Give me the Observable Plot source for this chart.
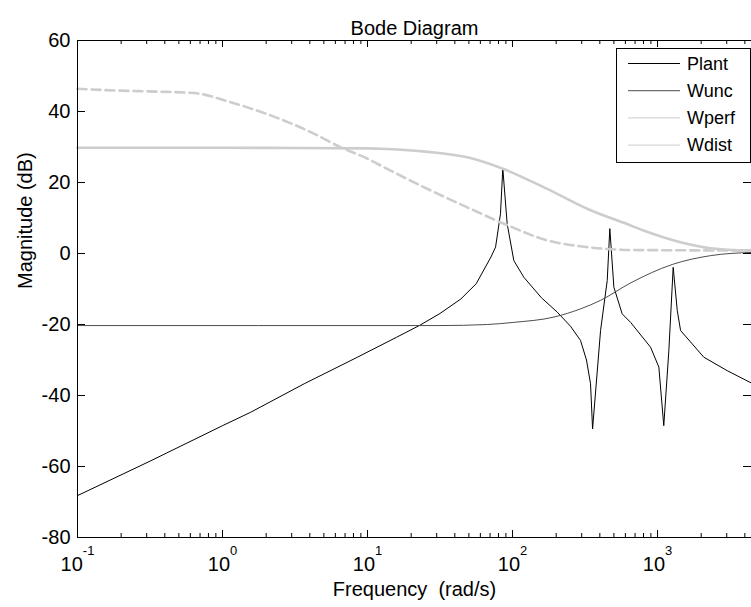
<!DOCTYPE html>
<html>
<head>
<meta charset="utf-8">
<script src="https://cdn.jsdelivr.net/npm/d3@7"></script>
<script src="https://cdn.jsdelivr.net/npm/@observablehq/plot@0.6"></script>
<style>
  body { margin: 0; background: #fff; }
</style>
</head>
<body>
<div id="chart"></div>
<script>
// ---------- data ----------
const titleText = "Bode Diagram";
const xLabelText = "Frequency  (rad/s)";
const yLabelText = "Magnitude (dB)";
const seriesNames = ["Plant", "Wunc", "Wperf", "Wdist"];

const xMax = 4446;
const xMajorTicks = [0.1, 1, 10, 100, 1000];
const yTicks = [-80, -60, -40, -20, 0, 20, 40, 60];

const plantFreq = [0.1, 0.316, 1, 1.567, 3.656, 8.53, 15.85, 22.75, 31.6, 44.06, 56.2, 70.96, 76.4, 82.6, 85.7, 91.8, 102.1, 119.7, 158.5, 203.2, 251.2, 294.4, 323.6, 345.1, 356.5, 404.6, 449.8, 468.8, 500.0, 570.2, 651.6, 895.4, 1021, 1104, 1197, 1282, 1368, 1442, 2084, 3020, 4446];
const plantMag  = [-68.2, -58.5, -48.5, -44.7, -36.7, -29.2, -23.6, -20.3, -16.9, -12.8, -8.5, -1.0, 1.8, 11.2, 24.0, 8.4, -2.0, -6.7, -12.5, -16.5, -20.5, -24.5, -30.0, -36.7, -49.4, -21.7, -7.6, 7.0, -9.5, -17.0, -19.4, -26.4, -32.0, -48.5, -27.3, -3.9, -16.1, -21.7, -29.2, -33.0, -36.5];

const wuncFreq = [0.1, 31.6, 67.0, 102.1, 193.2, 294.4, 404.6, 651.6, 1262, 2323, 4446];
const wuncMag  = [-20.3, -20.3, -20.0, -19.4, -17.9, -15.6, -13.2, -8.3, -3.1, -0.6, 0.3];

const wperfFreq = [0.1, 1, 3.16, 10, 12.3, 25.1, 48.8, 86.7, 173.4, 327.3, 651.6, 800, 1442, 2323, 4446];
const wperfMag  = [29.8, 29.8, 29.7, 29.6, 29.5, 28.7, 27.1, 23.8, 18.2, 12.6, 7.9, 6.5, 3.2, 1.5, 0.8];

const wdistFreq = [0.1, 0.189, 0.355, 0.638, 1.14, 2.15, 4.06, 6.55, 10, 12.3, 24.4, 48.8, 87.1, 173.4, 327.3, 651.6, 1585, 4446];
const wdistMag  = [46.4, 45.9, 45.6, 45.2, 42.6, 38.9, 34.2, 29.9, 26.7, 24.8, 18.7, 13.0, 8.4, 3.7, 1.8, 1.0, 0.9, 0.8];

// ---------- build ----------
const toRows = (name, f, m) => f.map((x, i) => ({name, f: x, db: m[i]}));
const plantRows = toRows(seriesNames[0], plantFreq, plantMag);
const wuncRows  = toRows(seriesNames[1], wuncFreq, wuncMag);
const wperfRows = toRows(seriesNames[2], wperfFreq, wperfMag);
const wdistRows = toRows(seriesNames[3], wdistFreq, wdistMag);

const xMinorTicks = [];
for (const d of xMajorTicks) for (let k = 2; k <= 9; k++) { const v = d * k; if (v <= xMax) xMinorTicks.push(v); }

const W = 751, H = 607, mT = 40, mB = 70, mL = 77, mR = 0;
const plotH = H - mT - mB;
const plotW = W - mL - mR;
const font = '"Liberation Sans", Arial, Helvetica, sans-serif';

const chart = Plot.plot({
  width: W, height: H,
  marginTop: mT, marginBottom: mB, marginLeft: mL, marginRight: mR,
  style: {fontFamily: font, background: "#fff", color: "#000", overflow: "visible"},
  x: {type: "log", domain: [0.1, xMax]},
  y: {domain: [-80, 60]},
  marks: [
    Plot.line(plantRows, {x: "f", y: "db", stroke: "#000", strokeWidth: 1}),
    Plot.line(wuncRows,  {x: "f", y: "db", stroke: "#4d4d4d", strokeWidth: 1, curve: "monotone-x"}),
    Plot.line(wperfRows, {x: "f", y: "db", stroke: "#cdcdcd", strokeWidth: 2.6, curve: "monotone-x"}),
    Plot.line(wdistRows, {x: "f", y: "db", stroke: "#cdcdcd", strokeWidth: 2.6, strokeDasharray: "9,5", curve: "monotone-x"}),
    Plot.frame({stroke: "#000", strokeWidth: 1}),
    Plot.tickX(xMajorTicks, {x: d => d, insetTop: plotH - 7, stroke: "#000"}),
    Plot.tickX(xMajorTicks, {x: d => d, insetBottom: plotH - 7, stroke: "#000"}),
    Plot.tickX(xMinorTicks, {x: d => d, insetTop: plotH - 4, stroke: "#000"}),
    Plot.tickX(xMinorTicks, {x: d => d, insetBottom: plotH - 4, stroke: "#000"}),
    Plot.tickY(yTicks, {y: d => d, insetRight: plotW - 8, stroke: "#000"}),
    Plot.tickY(yTicks, {y: d => d, insetLeft: plotW - 8, stroke: "#000"}),
    Plot.axisX(xMajorTicks, {anchor: "bottom", tickSize: 0, tickPadding: 19, fontSize: 20, label: null,
      tickFormat: d => "10^" + Math.round(Math.log10(d))}),
    Plot.axisY(yTicks, {anchor: "left", tickSize: 0, tickPadding: 7, fontSize: 20, label: null,
      tickFormat: d => String(d)}),
    Plot.text([yLabelText], {text: d => d, frameAnchor: "left", rotate: -90, dx: -52, fontSize: 20}),
    Plot.text([xLabelText], {text: d => d, frameAnchor: "bottom", dy: 58, fontSize: 20}),
    Plot.text([titleText], {text: d => d, frameAnchor: "top", dy: -20, fontSize: 20})
  ]
});

document.getElementById("chart").appendChild(chart);

// superscript exponents on x tick labels
d3.select(chart).selectAll('g[aria-label="x-axis tick label"] text').each(function() {
  const parts = this.textContent.split("^");
  if (parts.length !== 2) return;
  const t = d3.select(this);
  t.text(parts[0]);
  t.append("tspan").attr("dy", "-16").attr("font-size", 13).text(parts[1]);
});

// legend
const legendItems = [
  {name: seriesNames[0], color: "#000", width: 1},
  {name: seriesNames[1], color: "#4d4d4d", width: 1},
  {name: seriesNames[2], color: "#cdcdcd", width: 1},
  {name: seriesNames[3], color: "#cdcdcd", width: 1}
];
const lg = d3.select(chart).append("g")
  .attr("font-family", font).attr("font-size", 18).attr("text-anchor", "start");
lg.append("rect").attr("x", 616.5).attr("y", 48.5).attr("width", 134).attr("height", 114)
  .attr("fill", "#fff").attr("stroke", "#000");
legendItems.forEach((e, i) => {
  const y = 63.5 + i * 27.2;
  lg.append("line").attr("x1", 628).attr("x2", 680).attr("y1", y).attr("y2", y)
    .attr("stroke", e.color).attr("stroke-width", e.width);
  lg.append("text").attr("x", 687).attr("y", y).attr("dy", "0.35em")
    .attr("text-anchor", "start").attr("fill", "#000").text(e.name);
});
</script>
</body>
</html>
